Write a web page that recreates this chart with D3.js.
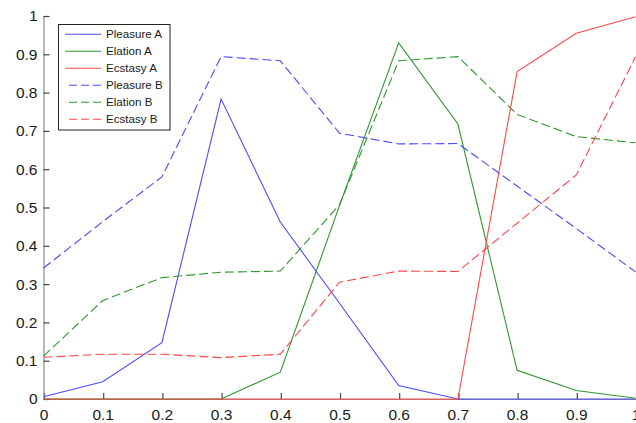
<!DOCTYPE html>
<html>
<head>
<meta charset="utf-8">
<script src="https://cdn.jsdelivr.net/npm/d3@7"></script>
<style>
  html, body { margin: 0; padding: 0; background: #fff; }
  svg { display: block; }
  text { font-family: "Liberation Sans", Arial, sans-serif; }
</style>
</head>
<body>
<svg id="chart" width="636" height="423"></svg>
<script>
// x positions shared by every series
const xValues = [0, 0.1, 0.2, 0.3, 0.4, 0.5, 0.6, 0.7, 0.8, 0.9, 1.0];

// series values
const pleasureA = [0.006, 0.045, 0.147, 0.783, 0.462, 0.25, 0.035, 0, 0, 0, 0];
const elationA  = [0, 0, 0, 0, 0.07, 0.505, 0.93, 0.718, 0.075, 0.022, 0.002];
const ecstasyA  = [0, 0, 0, 0, 0, 0, 0, 0, 0.855, 0.955, 0.998];
const pleasureB = [0.342, 0.463, 0.58, 0.894, 0.883, 0.694, 0.666, 0.667, 0.556, 0.445, 0.332];
const elationB  = [0.112, 0.257, 0.317, 0.331, 0.334, 0.507, 0.883, 0.894, 0.743, 0.685, 0.669];
const ecstasyB  = [0.109, 0.117, 0.117, 0.108, 0.117, 0.305, 0.334, 0.333, 0.459, 0.585, 0.893];

// legend labels in plotting order
const seriesNames = ["Pleasure A", "Elation A", "Ecstasy A", "Pleasure B", "Elation B", "Ecstasy B"];

// axis tick labels
const xTicks = [0, 0.1, 0.2, 0.3, 0.4, 0.5, 0.6, 0.7, 0.8, 0.9, 1];
const yTicks = [0, 0.1, 0.2, 0.3, 0.4, 0.5, 0.6, 0.7, 0.8, 0.9, 1];

const seriesValues = [pleasureA, elationA, ecstasyA, pleasureB, elationB, ecstasyB];
const colors = ["#4b4bff", "#2f962f", "#ff4747", "#4b4bff", "#2f962f", "#ff4747"];
const dashed = [false, false, false, true, true, true];

const svg = d3.select("#chart");

const x = d3.scaleLinear().domain([0, 1]).range([43.5, 635.5]);
const y = d3.scaleLinear().domain([0, 1]).range([399, 16]);

const fmt = d => (d === 0 ? "0" : d === 1 ? "1" : d3.format(".1f")(d));

// axes with inward ticks
const yAxis = d3.axisLeft(y).tickValues(yTicks).tickFormat(fmt)
  .tickSizeInner(-6).tickSizeOuter(0).tickPadding(6);
const xAxis = d3.axisBottom(x).tickValues(xTicks).tickFormat(fmt)
  .tickSizeInner(-6).tickSizeOuter(0).tickPadding(9.5);

const gx = svg.append("g").attr("transform", "translate(0,399)").call(xAxis);
const gy = svg.append("g").attr("transform", "translate(43.5,0)").call(yAxis);

[gx, gy].forEach(g => {
  g.select(".domain").attr("stroke", "#8a8a8a").attr("stroke-width", 1.2);
  g.selectAll(".tick line").attr("stroke", "#444").attr("stroke-width", 1.2);
  g.selectAll(".tick text")
    .attr("fill", "#1a1a1a")
    .style("font-size", "15.5px")
    .style("font-family", "'Liberation Sans', Arial, sans-serif");
});
gx.selectAll(".tick line").attr("transform", "translate(0.5,0)");
gy.selectAll(".tick line").attr("transform", "translate(0,0)");

// series lines
const line = d3.line()
  .x((d, i) => x(xValues[i]))
  .y(d => y(d));

const plot = svg.append("g");
seriesValues.forEach((vals, k) => {
  plot.append("path")
    .datum(vals)
    .attr("d", line)
    .attr("fill", "none")
    .attr("stroke", colors[k])
    .attr("stroke-width", 1.1)
    .attr("stroke-linejoin", "miter")
    .attr("stroke-dasharray", dashed[k] ? "9,4" : null);
});

// legend
const legend = svg.append("g");
legend.append("rect")
  .attr("x", 58.5).attr("y", 24.5)
  .attr("width", 111.5).attr("height", 105.5)
  .attr("fill", "#fff")
  .attr("stroke", "#222")
  .attr("stroke-width", 1);

seriesNames.forEach((name, k) => {
  const cy = 34.3 + k * 17;
  legend.append("line")
    .attr("x1", dashed[k] ? 69 : 65).attr("x2", 101)
    .attr("y1", cy).attr("y2", cy)
    .attr("stroke", colors[k])
    .attr("stroke-width", 1.1)
    .attr("stroke-dasharray", dashed[k] ? "8,4" : null);
  legend.append("text")
    .attr("x", 106).attr("y", cy)
    .attr("dy", "0.35em")
    .attr("fill", "#1a1a1a")
    .style("font-size", "11.6px")
    .text(name);
});
</script>
</body>
</html>
